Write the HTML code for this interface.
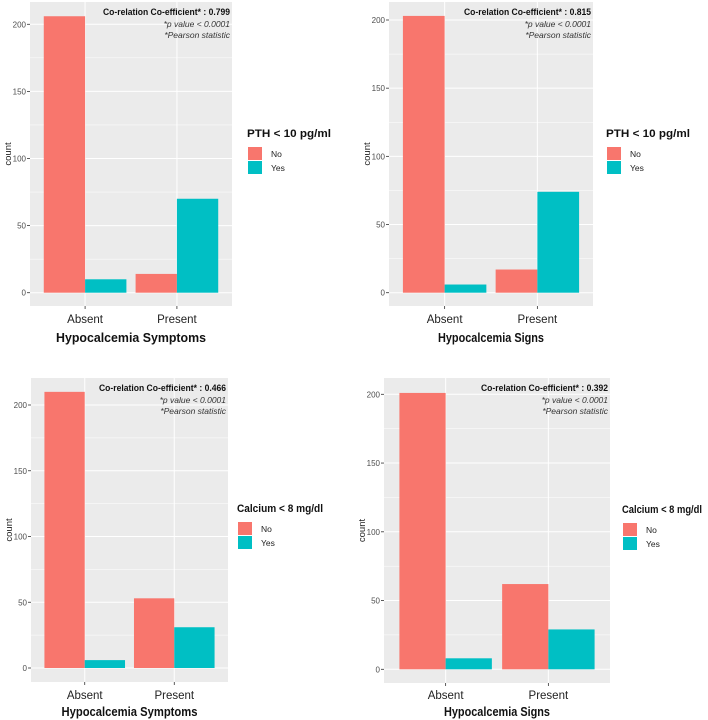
<!DOCTYPE html>
<html><head><meta charset="utf-8"><style>
html,body{margin:0;padding:0;background:#fff;}
svg{display:block;font-family:"Liberation Sans",sans-serif;}
</style></head><body>
<svg id="fig" width="708" height="720" viewBox="0 0 708 720"></svg>
<script>
const categories = ["Absent","Present"];
const groups = ["No","Yes"];
const p1No = [206,14], p1Yes = [10,70];
const p2No = [203,17], p2Yes = [6,74];
const p3No = [210,53], p3Yes = [6,31];
const p4No = [201,62], p4Yes = [8,29];
const yTicks = [0,50,100,150,200];
const coefs = ["0.799","0.815","0.466","0.392"];
const xTitles = ["Hypocalcemia Symptoms","Hypocalcemia Signs","Hypocalcemia Symptoms","Hypocalcemia Signs"];
const legendTitles = ["PTH < 10 pg/ml","PTH < 10 pg/ml","Calcium < 8 mg/dl","Calcium < 8 mg/dl"];
const NS="http://www.w3.org/2000/svg";
const svg=document.getElementById('fig');
const colors={No:"#F8766D",Yes:"#00BFC4"};
function mk(tag,attrs,parent,text){const e=document.createElementNS(NS,tag);for(const k in attrs)e.setAttribute(k,attrs[k]);if(text!==undefined)e.textContent=text;(parent||svg).appendChild(e);return e;}
const panels=[
 {x0:30,x1:232,top:2,bot:306,y0:292.7,y200:24.3,no:p1No,yes:p1Yes,lx:247,ly:137,xl:323,xt:342,lw:84,xw:150},
 {x0:389,x1:593,top:2,bot:306,y0:292.7,y200:20,no:p2No,yes:p2Yes,lx:606,ly:137,xl:323,xt:342,lw:84,xw:106},
 {x0:31,x1:228,top:378,bot:682,y0:668,y200:405,no:p3No,yes:p3Yes,lx:237,ly:512,xl:699,xt:716,lw:86,xw:136},
 {x0:384,x1:610,top:378,bot:683,y0:669.3,y200:394.3,no:p4No,yes:p4Yes,lx:622,ly:513,xl:699,xt:716,lw:80,xw:106}
];
panels.forEach((p,i)=>{
 const g=mk('g',{});
 
 
 const unit=(p.x1-p.x0)/2.2;
 const xs=c=>p.x0+(c+0.6)*unit;
 const ys=v=>p.y0-(p.y0-p.y200)*v/200;
 const bg=mk('rect',{x:p.x0,y:p.top,width:p.x1-p.x0,height:p.bot-p.top,fill:"#EBEBEB"},g);
 
 
 for(let k=0;k<yTicks.length-1;k++){const v=(yTicks[k]+yTicks[k+1])/2;mk('line',{x1:p.x0,x2:p.x1,y1:ys(v),y2:ys(v),stroke:"#fff","stroke-width":0.5},g);}
 yTicks.forEach(t=>{
  const l=mk('line',{x1:p.x0,x2:p.x1,y1:ys(t),y2:ys(t),stroke:"#fff","stroke-width":1},g);
  
  
  mk('line',{x1:p.x0-3,x2:p.x0,y1:ys(t),y2:ys(t),stroke:"#333","stroke-width":0.8},g);
  const tl=mk('text',{x:p.x0-4,y:ys(t)+3,"font-size":8,fill:"#4d4d4d","text-anchor":"end"},g,String(t));
  
  
 });
 categories.forEach((c,ci)=>{
  mk('line',{x1:xs(ci),x2:xs(ci),y1:p.top,y2:p.bot,stroke:"#fff","stroke-width":1},g);
  mk('line',{x1:xs(ci),x2:xs(ci),y1:p.bot,y2:p.bot+3,stroke:"#333","stroke-width":0.8},g);
  const xl=mk('text',{x:xs(ci),y:p.xl,"font-size":11.5,fill:"#222","text-anchor":"middle"},g,c);
  
  
  const w=0.45*unit;
  const b1=mk('rect',{x:xs(ci)-w,y:ys(p.no[ci]),width:w,height:ys(0)-ys(p.no[ci]),fill:colors.No},g);
  
  
  const b2=mk('rect',{x:xs(ci),y:ys(p.yes[ci]),width:w,height:ys(0)-ys(p.yes[ci]),fill:colors.Yes},g);
  
  
 });
 const ax=p.x1-2;
 const a1=mk('text',{x:ax,y:p.top+13,"font-size":9.5,"font-weight":"bold",fill:"#111","text-anchor":"end",textLength:127,lengthAdjust:"spacingAndGlyphs"},g,"Co-relation Co-efficient* : "+coefs[i]);
 
 
 const a2=mk('text',{x:ax,y:p.top+25,"font-size":8.5,"font-style":"italic",fill:"#333","text-anchor":"end"},g,"*p value < 0.0001");
 
 
 const a3=mk('text',{x:ax,y:p.top+36,"font-size":8.5,"font-style":"italic",fill:"#333","text-anchor":"end"},g,"*Pearson statistic");
 
 
 const ylab=mk('text',{x:0,y:0,"font-size":9.5,fill:"#222","text-anchor":"middle",transform:`translate(${p.x0-19},${(p.top+p.bot)/2}) rotate(-90)`},g,"count");
 
 
 const xt=mk('text',{x:(p.x0+p.x1)/2,y:p.xt,"font-size":12.5,"font-weight":"bold",fill:"#111","text-anchor":"middle",textLength:p.xw,lengthAdjust:"spacingAndGlyphs"},g,xTitles[i]);
 
 
 const lg=mk('g',{},g);
 
 
 const lt=mk('text',{x:p.lx,y:p.ly,"font-size":11,"font-weight":"bold",fill:"#111",textLength:p.lw,lengthAdjust:"spacingAndGlyphs"},lg,legendTitles[i]);
 
 
 groups.forEach((gr,gi)=>{
  const ky=p.ly+10+gi*14;
  const k=mk('rect',{x:p.lx+1,y:ky,width:14,height:13,fill:colors[gr]},lg);
  
  
  const kt=mk('text',{x:p.lx+24,y:ky+10,"font-size":8.5,fill:"#222"},lg,gr);
  
  
 });
});
</script>
</body></html>
